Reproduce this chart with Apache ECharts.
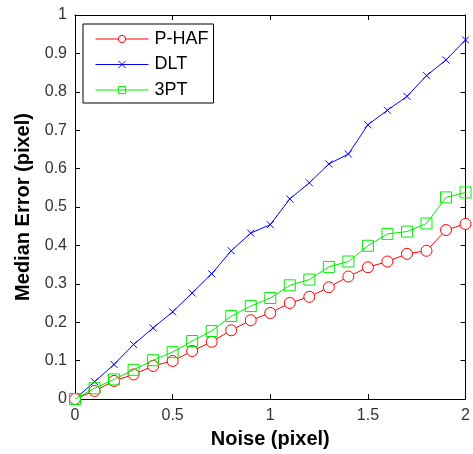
<!DOCTYPE html>
<html><head><meta charset="utf-8">
<script src="https://cdn.jsdelivr.net/npm/echarts@6/dist/echarts.min.js"></script>
<style>html,body{margin:0;padding:0;background:#fff}#c{width:473px;height:454px}</style>
</head><body><div id="c"></div>
<script>
const noise = [0,0.1,0.2,0.3,0.4,0.5,0.6,0.7,0.8,0.9,1.0,1.1,1.2,1.3,1.4,1.5,1.6,1.7,1.8,1.9,2.0];
const phaf = [0,0.021,0.047,0.064,0.086,0.099,0.125,0.149,0.179,0.205,0.224,0.250,0.266,0.291,0.319,0.343,0.358,0.378,0.386,0.440,0.456];
const dlt  = [0,0.045,0.090,0.142,0.185,0.227,0.276,0.326,0.386,0.432,0.454,0.521,0.563,0.612,0.638,0.714,0.752,0.788,0.842,0.883,0.935];
const tpt  = [0,0.028,0.051,0.076,0.101,0.122,0.151,0.177,0.216,0.242,0.263,0.296,0.311,0.344,0.358,0.399,0.430,0.436,0.457,0.525,0.538];
const seriesNames = ['P-HAF','DLT','3PT'];
const xTicks = [0,0.5,1,1.5,2];

const font = 'Liberation Sans, Arial, sans-serif';
const pair = a => a.map((v,i)=>[noise[i],v]);
const chart = echarts.init(document.getElementById('c'));
const axisCommon = {
  axisLine:{show:true,onZero:false,lineStyle:{color:'#000',width:1}},
  axisTick:{show:true,inside:true,length:5,lineStyle:{color:'#000'}},
  splitLine:{show:false}
};
chart.setOption({
  animation:false,
  backgroundColor:'#fff',
  grid:{left:75,right:2,top:15,bottom:52,containLabel:false},
  legend:{
    left:83,top:24,orient:'vertical',
    data:seriesNames,
    itemWidth:53,itemHeight:9,itemGap:7.5,
    padding:[6,5,4,12],
    borderColor:'#000',borderWidth:1,backgroundColor:'#fff',borderRadius:0,
    itemStyle:{borderWidth:1},
    lineStyle:{width:1},
    textStyle:{fontFamily:font,fontSize:18,lineHeight:18,color:'#000',padding:[0,0,0,1]}
  },
  xAxis:[
    Object.assign({type:'value',min:0,max:2,interval:0.5,position:'bottom',
      axisLabel:{fontFamily:font,fontSize:16,color:'#333',margin:9,
        formatter:v=>xTicks.includes(v)?String(v):''},
      name:'Noise (pixel)',nameLocation:'middle',nameGap:30,
      nameTextStyle:{fontFamily:font,fontSize:20,fontWeight:'bold',color:'#000'}},axisCommon),
    Object.assign({type:'value',min:0,max:2,interval:0.5,position:'top',axisLabel:{show:false}},axisCommon)
  ],
  yAxis:[
    Object.assign({type:'value',min:0,max:1,interval:0.1,position:'left',
      axisLabel:{fontFamily:font,fontSize:16,color:'#333',margin:8,
        formatter:v=>String(Math.round(v*10)/10)},
      name:'Median Error (pixel)',nameLocation:'middle',nameGap:33,
      nameTextStyle:{fontFamily:font,fontSize:20,fontWeight:'bold',color:'#000'}},axisCommon),
    Object.assign({type:'value',min:0,max:1,interval:0.1,position:'right',axisLabel:{show:false}},axisCommon)
  ],
  series:[
    {name:seriesNames[0],type:'line',data:pair(phaf),symbol:'circle',symbolSize:11,showAllSymbol:true,
      lineStyle:{color:'#ff0000',width:1},itemStyle:{color:'#fff',borderColor:'#ff0000',borderWidth:1},z:3},
    {name:seriesNames[1],type:'line',data:pair(dlt),symbol:'path://M0,0L10,10M10,0L0,10',symbolSize:7,showAllSymbol:true,
      lineStyle:{color:'#0000ff',width:1},itemStyle:{color:'none',borderColor:'#0000ff',borderWidth:1},z:2},
    {name:seriesNames[2],type:'line',data:pair(tpt),symbol:'rect',symbolSize:11,showAllSymbol:true,
      lineStyle:{color:'#00ee00',width:1},itemStyle:{color:'none',borderColor:'#00ee00',borderWidth:1},z:4}
  ]
});
</script></body></html>
